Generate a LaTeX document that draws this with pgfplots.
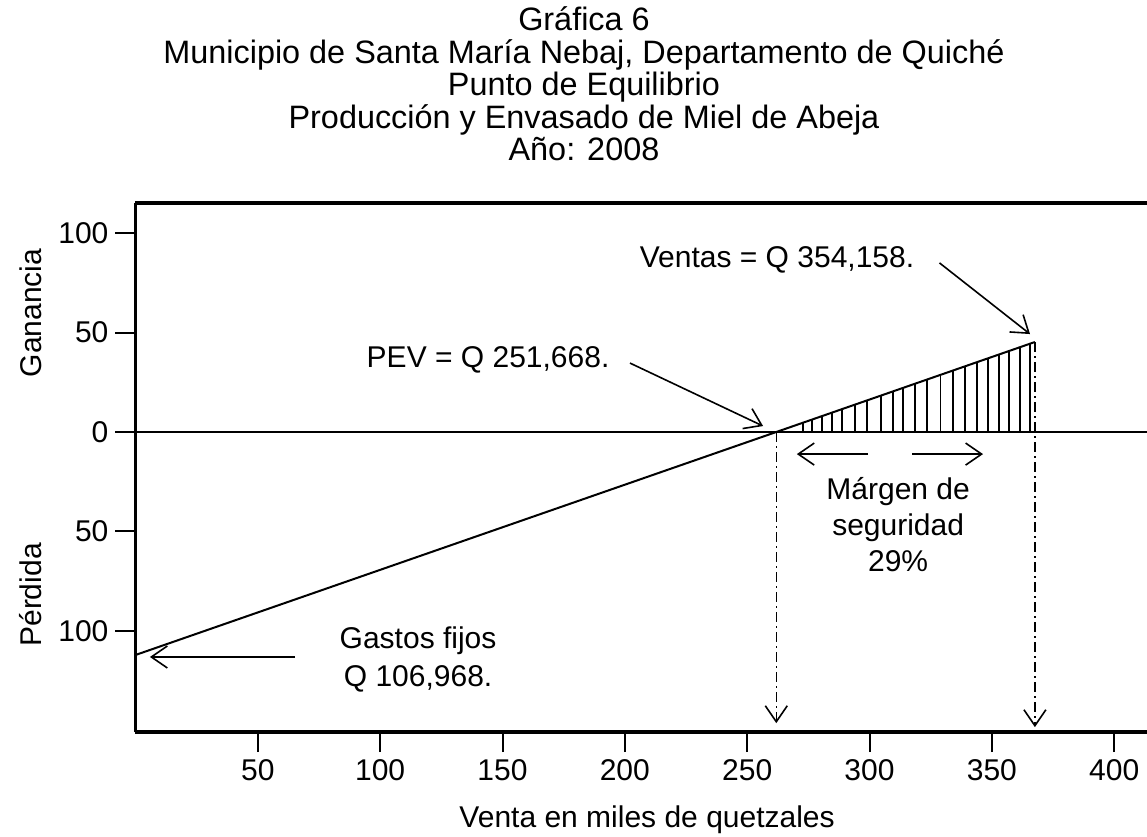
\documentclass[border=0pt]{standalone}
\usepackage{pgfplots}
\pgfplotsset{compat=1.18}
\usepackage{fontspec}
\setmainfont{Liberation Sans}
\usetikzlibrary{arrows.meta}
\newcommand{\lbl}{\fontsize{15}{18}\selectfont}
\newcommand{\ttl}{\fontsize{16.2}{19}\selectfont}
\begin{document}
\begin{tikzpicture}[
  arr/.style={line width=0.8pt, -{Straight Barb[length=8pt,width=11pt,line width=0.8pt]}},
  txt/.style={anchor=base, font=\lbl, inner sep=0pt},
]
\begin{axis}[
  scale only axis,
  width=505.75pt, height=264.5pt,
  xmin=0, xmax=413.42, ymin=-151.0, ymax=115.2,
  axis x line*=box, axis y line*=left,
  xtick pos=bottom, ytick pos=left,
  axis line style={line width=1.8pt},
  xtick={50,100,150,200,250,300,350,400},
  ytick={-100,-50,0,50,100},
  yticklabels={100,50,0,50,100},
  tick align=outside, major tick length=10pt,
  tick style={line width=1pt, black},
  ticklabel style={font=\lbl},
  /pgf/number format/assume math mode=true,
  clip=false,
]
\addplot[line width=1pt] coordinates {(0,0) (413.42,0)};
\addplot[line width=1pt] coordinates {(0,-112.2) (367.6,45.3)};
\addplot[ycomb, line width=0.7pt] coordinates {
 (272.8,4.67) (276.5,6.26) (280.6,8.01) (284.7,9.77) (288.8,11.53)
 (294.1,13.80) (299.0,15.90) (304.7,18.34) (309.6,20.44) (313.7,22.20)
 (318.6,24.30) (323.5,26.40) (328.9,28.71) (334.2,30.98) (339.1,33.08)
 (344.0,35.18) (348.5,37.11) (353.0,39.04) (357.0,40.75) (361.5,42.68)
 (365.6,44.44)};
\addplot[line width=0.6pt, dash pattern=on 5pt off 2pt on 1pt off 2pt,
  -{Straight Barb[length=8pt,width=11pt,line width=0.8pt]}]
  coordinates {(261.9,0) (261.9,-146.5)};
\addplot[line width=0.6pt, dash pattern=on 5pt off 2pt on 1pt off 2pt,
  -{Straight Barb[length=8pt,width=11pt,line width=0.8pt]}]
  coordinates {(367.6,45.3) (367.6,-148.5)};

\draw[arr] (axis cs:328.6,85.1) -- (axis cs:365.6,49.3);
\draw[arr] (axis cs:202.1,34.7) -- (axis cs:256.5,3.0);
\draw[arr] (axis cs:65.2,-113.2) -- (axis cs:5.9,-113.2);
\draw[arr] (axis cs:299.4,-11.1) -- (axis cs:270.3,-11.1);
\draw[arr] (axis cs:317.4,-11.1) -- (axis cs:346.4,-11.1);

\node[txt] at (axis cs:262.2,83.0) {Ventas = Q 354,158.};
\node[txt] at (axis cs:144.1,32.7) {PEV = Q 251,668.};
\node[txt] at (axis cs:311.7,-34.2) {Márgen de};
\node[txt] at (axis cs:311.7,-52.0) {seguridad};
\node[txt] at (axis cs:311.7,-70.3) {29\%};
\node[txt] at (axis cs:115.5,-108.7) {Gastos fijos};
\node[txt] at (axis cs:115.5,-128.3) {Q 106,968.};
\node[txt] at (axis cs:209.1,-198.8) {Venta en miles de quetzales};
\node[font=\lbl, rotate=90, inner sep=0pt] at (axis cs:-43,59.9) {Ganancia};
\node[font=\lbl, rotate=90, inner sep=0pt] at (axis cs:-43,-82.0) {Pérdida};

\node[txt, font=\ttl] at (axis cs:183.3,201.8) {Gráfica 6};
\node[txt, font=\ttl] at (axis cs:183.3,185.2) {Municipio de Santa María Nebaj, Departamento de Quiché};
\node[txt, font=\ttl] at (axis cs:183.3,169.1) {Punto de Equilibrio};
\node[txt, font=\ttl] at (axis cs:183.3,152.5) {Producción y Envasado de Miel de Abeja};
\node[txt, font=\ttl] at (axis cs:183.3,136.4) {Año: 2008};

\coordinate (bl) at (axis cs:-55.38,-203.3);
\coordinate (tr) at (axis cs:413.42,217.4);
\end{axis}
\pgfresetboundingbox
\useasboundingbox (bl) rectangle (tr);
\end{tikzpicture}
\end{document}
